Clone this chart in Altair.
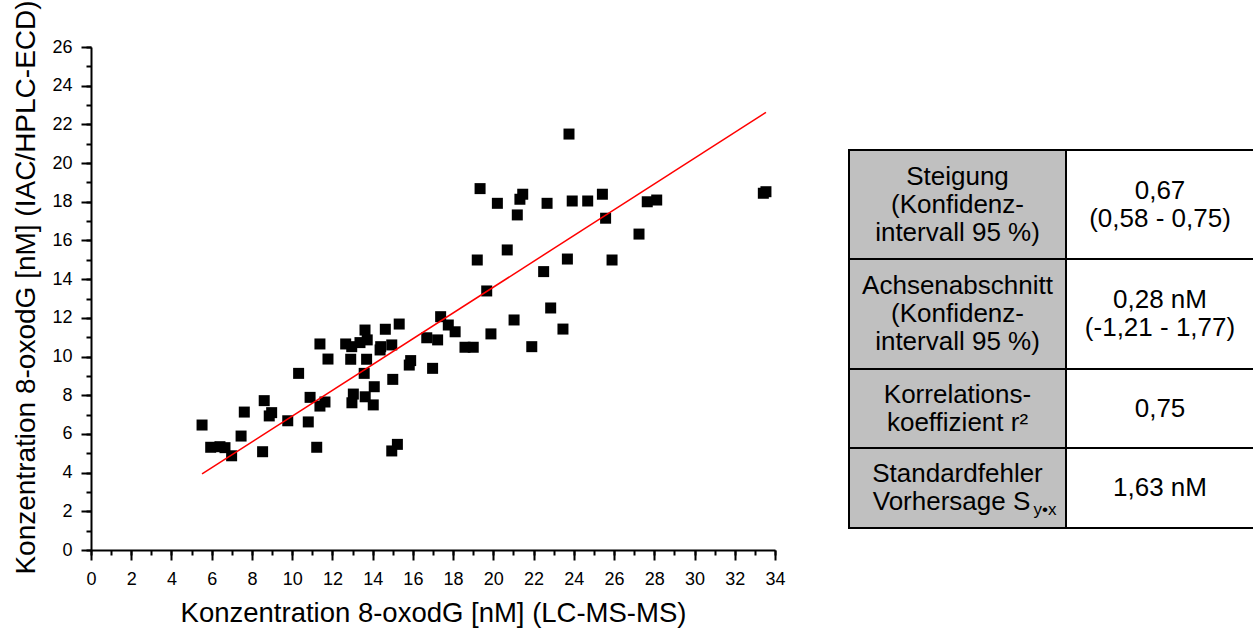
import altair as alt
import pandas as pd

# ---- scatter data ----
lcms = [5.52, 5.95, 6.41, 6.66, 6.99, 7.46, 7.62, 8.53, 8.61, 8.86, 8.98, 9.78, 10.32, 10.80,
        10.89, 11.22, 11.38, 11.38, 11.63, 11.78, 12.66, 12.96, 12.91, 13.62, 13.37, 13.73,
        13.70, 13.58, 14.08, 13.04, 12.97, 13.63, 14.03, 14.37, 14.40, 14.63, 14.95, 15.32,
        15.00, 15.23, 14.95, 15.89, 15.82, 16.98, 16.69, 17.23, 17.38, 17.76, 18.10, 18.59,
        19.00, 19.20, 19.34, 19.67, 19.88, 20.20, 20.69, 21.03, 21.19, 21.32, 21.46, 21.91,
        22.50, 22.67, 22.85, 23.46, 23.68, 23.76, 23.92, 24.69, 25.42, 25.58, 25.90, 27.24,
        27.65, 28.12, 33.42, 33.55]
iac = [6.46, 5.31, 5.34, 5.29, 4.87, 5.89, 7.13, 5.08, 7.72, 6.93, 7.10, 6.68, 9.13, 6.62,
       7.89, 5.31, 10.65, 7.44, 7.65, 9.87, 10.65, 10.51, 9.86, 11.37, 10.72, 10.86,
       9.86, 9.13, 8.44, 8.06, 7.61, 7.92, 7.50, 10.34, 10.51, 11.41, 10.60, 11.68,
       8.82, 5.46, 5.12, 9.79, 9.56, 9.39, 10.97, 10.86, 12.06, 11.63, 11.28, 10.48,
       10.48, 14.99, 18.68, 13.39, 11.17, 17.92, 15.51, 11.89, 17.32, 18.13, 18.39, 10.51,
       14.39, 17.92, 12.51, 11.42, 15.04, 21.50, 18.04, 18.04, 18.39, 17.15, 14.99, 16.33,
       18.00, 18.09, 18.44, 18.52]

# regression line end points
line_x = [5.52, 33.55]
line_y = [3.93, 22.62]

x_major = list(range(0, 35, 2))
x_minor = list(range(0, 35))
y_major = list(range(0, 27, 2))
y_minor = list(range(0, 27))

x_title = "Konzentration 8-oxodG [nM] (LC-MS-MS)"
y_title = "Konzentration 8-oxodG [nM] (IAC/HPLC-ECD)"

# ---- table content ----
row_labels = [
    ["Steigung", "(Konfidenz-", "intervall 95 %)"],
    ["Achsenabschnitt", "(Konfidenz-", "intervall 95 %)"],
    ["Korrelations-", "koeffizient r\u00b2"],
    ["Standardfehler", "Vorhersage S"],
]
row_values = [
    ["0,67", "(0,58 - 0,75)"],
    ["0,28 nM", "(-1,21 - 1,77)"],
    ["0,75"],
    ["1,63 nM"],
]
subscript_base = "Vorhersage S"
subscript_text = "y\u2022x"

# table layout (in table-layer units)
col_edges = [758, 975, 1163]
row_edges = [103, 212, 322, 401, 481]
col_fills = ["#c0c0c0", "#ffffff"]
line_step = 28

FONT = "Liberation Sans"
W, H = 684, 503

# ---- scatter + line ----
pts_df = pd.DataFrame({"x": lcms, "y": iac})
line_df = pd.DataFrame({"x": line_x, "y": line_y})

common = dict(grid=False, domainColor="black", domainWidth=2,
              tickColor="black", tickWidth=2)
x_axis = alt.Axis(
    values=x_major, orient="bottom", tickSize=10, labelFlush=False, labelOverlap=False,
    labelFont=FONT, labelFontSize=18, labelColor="black", labelPadding=10,
    title=x_title, titleFont=FONT, titleFontSize=27.5, titleFontWeight="normal",
    titleColor="black", titleY=49, **common,
)
y_axis = alt.Axis(
    values=y_major, orient="left", tickSize=10, labelFlush=False, labelOverlap=False,
    labelFont=FONT, labelFontSize=18, labelColor="black", labelPadding=9,
    title=y_title, titleFont=FONT, titleFontSize=28, titleFontWeight="normal",
    titleColor="black", titleX=-51, titleY=240, **common,
)
x_axis_minor = alt.Axis(values=x_minor, orient="bottom", tickSize=5, labels=False,
                        domain=False, title=None, **common)
y_axis_minor = alt.Axis(values=y_minor, orient="left", tickSize=5, labels=False,
                        domain=False, title=None, **common)

xs = alt.Scale(domain=[0, 34], nice=False, zero=False)
ys = alt.Scale(domain=[0, 26], nice=False, zero=False)

points = alt.Chart(pts_df).mark_point(
    shape="square", filled=True, size=121, color="black", opacity=1
).encode(
    x=alt.X("x:Q", scale=xs, axis=x_axis),
    y=alt.Y("y:Q", scale=ys, axis=y_axis),
)
reg = alt.Chart(line_df).mark_line(color="#ff0000", strokeWidth=1.5).encode(
    x=alt.X("x:Q", scale=xs, axis=x_axis_minor),
    y=alt.Y("y:Q", scale=ys, axis=y_axis_minor),
)
scatter = alt.layer(points, reg).resolve_axis(x="independent", y="independent")

# ---- table ----
cells = []
texts = []
for r in range(len(row_labels)):
    top, bot = row_edges[r], row_edges[r + 1]
    mid = (top + bot) / 2
    for c, content in enumerate([row_labels[r], row_values[r]]):
        cells.append({"x0": col_edges[c], "x1": col_edges[c + 1], "y0": top, "y1": bot,
                      "fill": col_fills[c]})
        cx = (col_edges[c] + col_edges[c + 1]) / 2
        n = len(content)
        for i, t in enumerate(content):
            texts.append({"x": cx, "y": mid + (i - (n - 1) / 2) * line_step, "t": t})
cells_df = pd.DataFrame(cells)
texts_df = pd.DataFrame(texts)

last_mid = (row_edges[-2] + row_edges[-1]) / 2
sub_df = pd.DataFrame({"x": [(col_edges[0] + col_edges[1]) / 2],
                       "y": [last_mid + line_step / 2], "t": [subscript_text]})

tx = alt.Scale(domain=[0, W], nice=False, zero=False)
ty = alt.Scale(domain=[0, H], nice=False, zero=False, reverse=True)

rects = alt.Chart(cells_df).mark_rect(stroke="black", strokeWidth=2).encode(
    x=alt.X("x0:Q", scale=tx, axis=None), x2="x1:Q",
    y=alt.Y("y0:Q", scale=ty, axis=None), y2="y1:Q",
    fill=alt.Fill("fill:N", scale=None),
)
text_enc = dict(
    x=alt.X("x:Q", scale=tx, axis=None),
    y=alt.Y("y:Q", scale=ty, axis=None),
    text="t:N",
)
text_main = alt.Chart(texts_df).transform_filter(
    alt.datum.t != subscript_base
).mark_text(
    font=FONT, fontSize=26, color="black", baseline="middle", align="center"
).encode(**text_enc)
# line carrying the subscript, shifted left to leave room for it
text_base = alt.Chart(texts_df).transform_filter(
    alt.datum.t == subscript_base
).mark_text(
    font=FONT, fontSize=26, color="black", baseline="middle", align="center", dx=-6
).encode(**text_enc)
text_sub = alt.Chart(sub_df).mark_text(
    font=FONT, fontSize=17, color="black", baseline="middle", align="left", dx=76, dy=8
).encode(**text_enc)
table = alt.layer(rects, text_main, text_base, text_sub)

chart = alt.layer(scatter, table).resolve_scale(
    x="independent", y="independent"
).properties(
    width=W, height=H,
    autosize=alt.AutoSizeParams(type="none"),
    padding={"left": 91, "top": 47, "right": 478, "bottom": 82},
    background="white",
).configure_view(stroke=None)

chart.save("out.html", embed_options={"renderer": "svg", "actions": False})
